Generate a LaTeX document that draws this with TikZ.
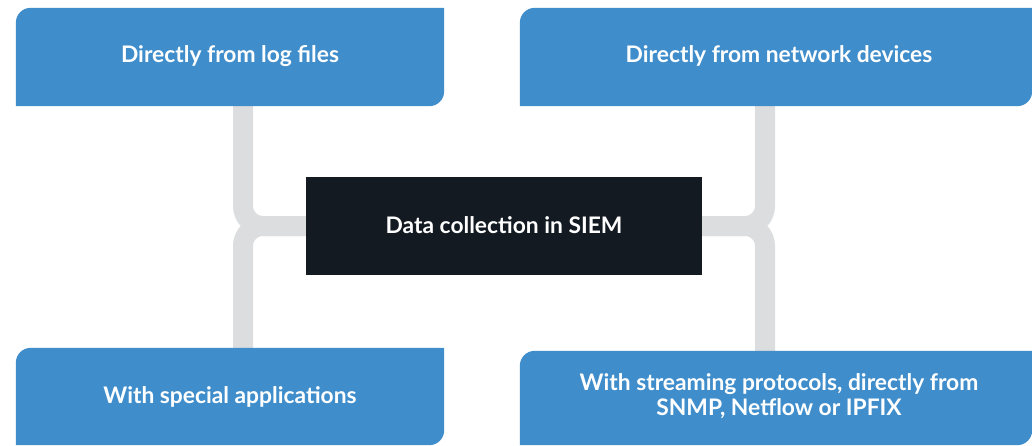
\documentclass[tikz,border=0pt]{standalone}
\usepackage{fontspec}
\setmainfont{Lato}
\definecolor{boxblue}{HTML}{3F8DCB}
\definecolor{darkbox}{HTML}{131A22}
\definecolor{conngray}{HTML}{DCDDDF}
\begin{document}
\begin{tikzpicture}[x=1pt,y=1pt,
  lbl/.style={inner sep=0pt, text=white, font=\bfseries\fontsize{22.8}{25.5}\selectfont, align=center},
  conn/.style={draw=conngray, line width=20pt, rounded corners=20pt},
  blueshape/.style={fill=boxblue}]
\useasboundingbox (0,0) rectangle (1032,445);
% anchor nodes (invisible boxes)
\node[minimum width=428pt, minimum height=98pt, inner sep=0pt] (tl) at (230,388) {};
\node[minimum width=512pt, minimum height=98pt, inner sep=0pt] (tr) at (776,388) {};
\node[minimum width=428pt, minimum height=97pt, inner sep=0pt] (bl) at (230,48.5) {};
\node[minimum width=512pt, minimum height=94pt, inner sep=0pt] (br) at (776,47) {};
\node[minimum width=396pt, minimum height=98pt, inner sep=0pt, fill=darkbox] (c) at (504,219) {};
\coordinate (L) at (243,219);
\coordinate (R) at (765,219);
% connectors
\draw[conn] (tl.south -| L) |- (c.west);
\draw[conn] (bl.north -| L) |- (c.west);
\draw[conn] (tr.south -| R) |- (c.east);
\draw[conn] (br.north -| R) |- (c.east);
\fill[darkbox] (c.south west) rectangle (c.north east);
% boxes with rounded top-left and bottom-right corners
\foreach \n in {tl,tr,bl,br}{
  \fill[blueshape] (\n.south west) -- ([yshift=-15pt]\n.north west)
    arc[start angle=180, end angle=90, radius=15pt] -- (\n.north east)
    -- ([yshift=15pt]\n.south east)
    arc[start angle=0, end angle=-90, radius=15pt] -- cycle;
}
% labels
\node[lbl] (tlt) at ([yshift=1pt]tl.center) {Directly from log files};
\node[lbl] (trt) at ([xshift=3pt,yshift=1pt]tr.center) {Directly from network devices};
\node[lbl] (blt) at ([yshift=0pt]bl.center) {With special applications};
\node[lbl] (brt) at ([xshift=3pt,yshift=2pt]br.center) {With streaming protocols, directly from\\SNMP, Netflow or IPFIX};
\node[lbl] (ct) at ([yshift=1pt]c.center) {Data collection in SIEM};
\end{tikzpicture}
\end{document}
